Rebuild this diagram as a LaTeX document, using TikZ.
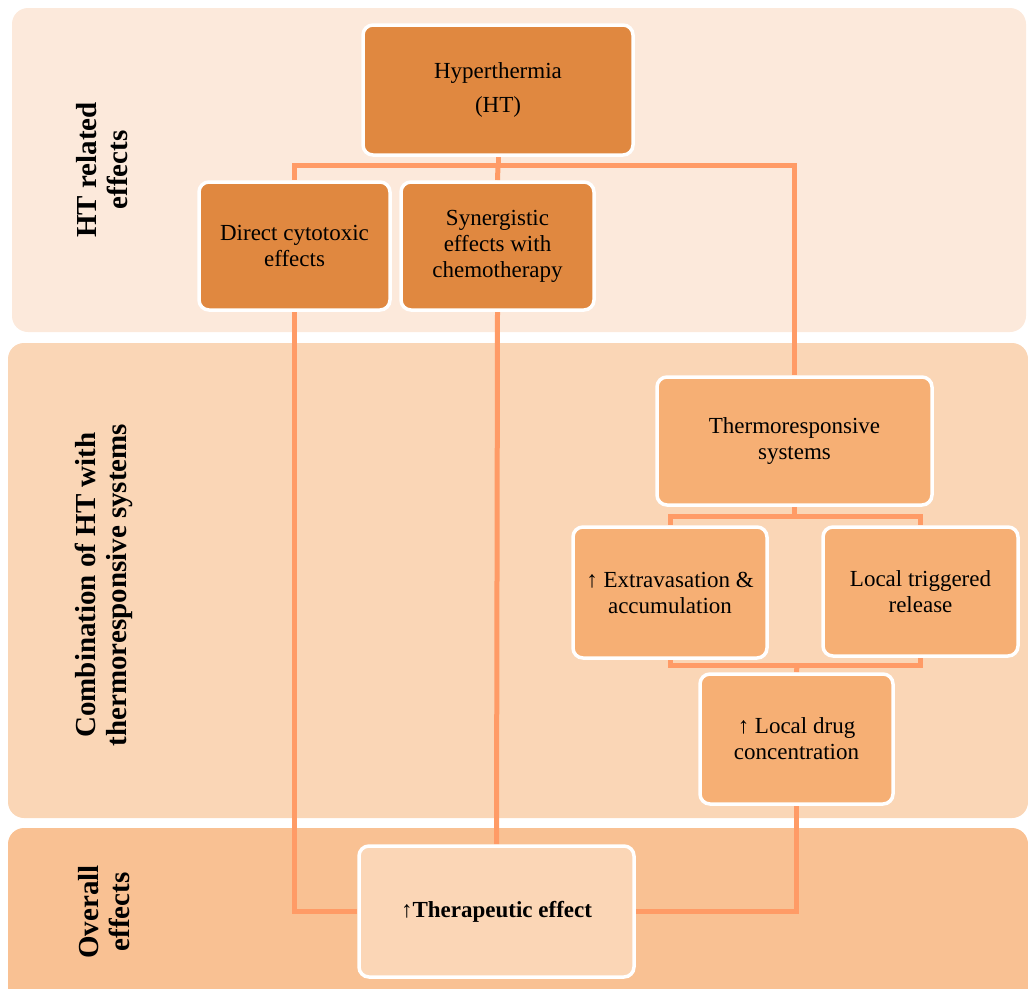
\documentclass[tikz,border=0pt]{standalone}
\usepackage{fontspec}
\setmainfont{Liberation Serif}
\pgfdeclarelayer{bg}
\pgfdeclarelayer{edges}
\pgfsetlayers{bg,edges,main}
\definecolor{panelA}{HTML}{FCE9DB}
\definecolor{panelB}{HTML}{FAD6B6}
\definecolor{panelC}{HTML}{F9C193}
\definecolor{darkbox}{HTML}{E08840}
\definecolor{midbox}{HTML}{F6AF74}
\definecolor{lightbox}{HTML}{FBD6B6}
\definecolor{linkcol}{HTML}{FF9B66}
\tikzset{
  box/.style={draw=white, line width=3.5pt, rounded corners=10pt, align=center,
    inner sep=2pt, font=\fontsize{23}{26}\selectfont},
  darkb/.style={box, fill=darkbox},
  midb/.style={box, fill=midbox},
  lightb/.style={box, fill=lightbox},
  panel/.style={rounded corners=16pt},
  sidelabel/.style={rotate=90, align=center, font=\fontsize{29}{31}\selectfont\bfseries},
  link/.style={draw=linkcol, line width=5pt}
}
\begin{document}
\begin{tikzpicture}[x=1pt, y=-1pt]
\useasboundingbox (0,0) rectangle (1028,988);
% nodes
\node[darkb, minimum width=270pt, minimum height=130pt] (ht) at (498,90) {Hyperthermia\\[8pt](HT)};
\node[darkb, minimum width=191pt, minimum height=128pt] (direct) at (294.5,246) {Direct cytotoxic\\effects};
\node[darkb, minimum width=193pt, minimum height=128pt] (syn) at (497.5,246) {Synergistic\\effects with\\chemotherapy};
\node[midb, minimum width=275pt, minimum height=128pt] (thermo) at (794.5,441) {Thermoresponsive\\systems};
\node[midb, minimum width=194pt, minimum height=131pt] (extr) at (670,592.5) {↑ Extravasation \&\\accumulation};
\node[midb, minimum width=195pt, minimum height=129pt] (trig) at (920.5,591.5) {Local triggered\\release};
\node[midb, minimum width=193pt, minimum height=130pt] (drug) at (796.5,739) {↑ Local drug\\concentration};
\node[lightb, minimum width=275pt, minimum height=131pt] (ther) at (496.5,911.5) {\textbf{↑Therapeutic effect}};
% side labels
\node[sidelabel] (lab1) at (102,170) {HT related\\effects};
\node[sidelabel] (lab2) at (104,585) {Combination of HT with\\thermoresponsive systems};
\node[sidelabel] (lab3) at (104,912) {Overall\\effects};
% panels
\begin{pgfonlayer}{bg}
\fill[panelA, panel] (12,8) rectangle (1026,332);
\fill[panelB, panel] (8,343) rectangle (1028,818);
\fill[panelC, panel] (8,828) rectangle (1028,1010);
\end{pgfonlayer}
% connectors
\begin{pgfonlayer}{edges}
\coordinate (j1) at (498,165);
\coordinate (j2) at (794.5,516);
\coordinate (j3) at (797,665);
\draw[link] (ht.south) -- (j1);
\draw[link] (j1) -| (direct.north);
\draw[link] (j1) -- (syn.north);
\draw[link] (j1) -| (thermo.north);
\draw[link] (direct.south) |- (ther.west);
\draw[link] (syn.south) -- (ther.north);
\draw[link] (thermo.south) -- (j2);
\draw[link] (j2) -| (extr.north);
\draw[link] (j2) -| (trig.north);
\draw[link] (extr.south) |- (j3);
\draw[link] (trig.south) |- (j3);
\draw[link] (j3) -- (drug.north);
\draw[link] (drug.south) |- (ther.east);
\end{pgfonlayer}
\end{tikzpicture}
\end{document}
